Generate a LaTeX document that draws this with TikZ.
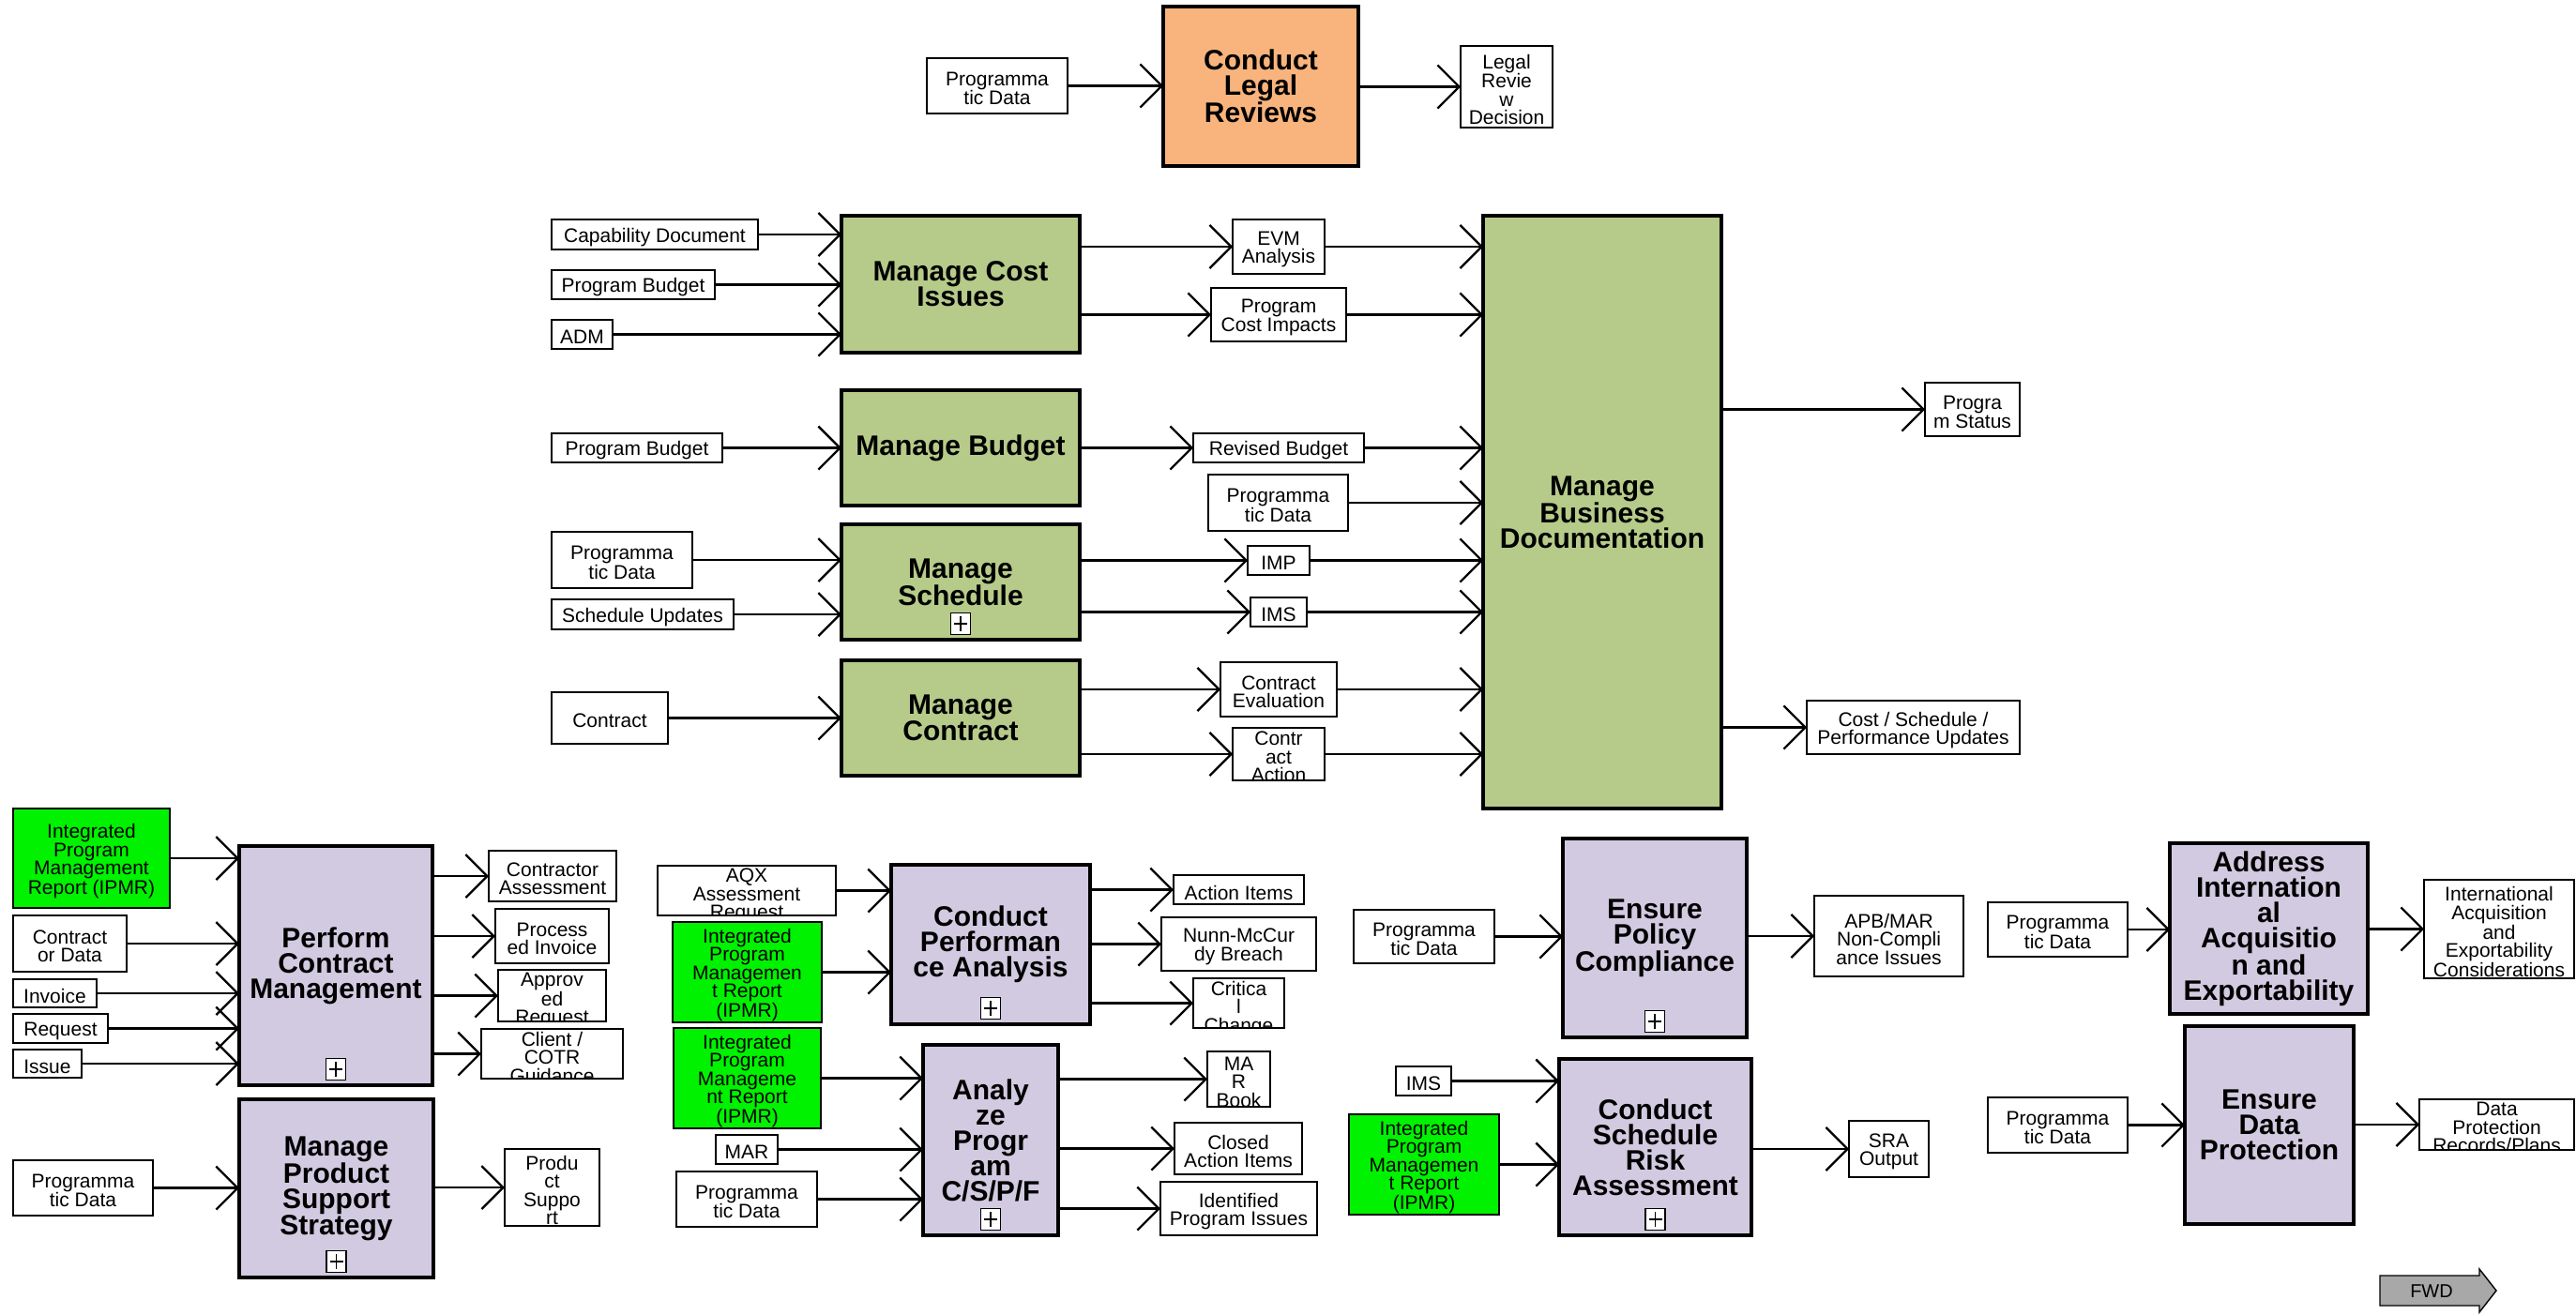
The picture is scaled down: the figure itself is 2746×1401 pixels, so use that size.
\documentclass[tikz,border=0pt]{standalone}
\usepackage{fontspec}
\setmainfont{Liberation Sans}
\usetikzlibrary{arrows.meta}
\definecolor{olivefill}{HTML}{B6CB89}
\definecolor{lavfill}{HTML}{D2CAE0}
\definecolor{orangefill}{HTML}{F8B47C}
\definecolor{ipmrgreen}{HTML}{00F200}
\definecolor{fwdgray}{HTML}{A8A8A8}
\tikzset{
 proc/.style={draw=black, line width=3.4pt, inner sep=0pt, outer sep=0pt, align=center, font=\bfseries\fontsize{30}{27}\selectfont},
 olive/.style={proc, fill=olivefill},
 lav/.style={proc, fill=lavfill},
 orng/.style={proc, fill=orangefill},
 sbox/.style={draw=black, line width=2.6pt, fill=white, inner sep=0pt, outer sep=0pt},
 gbox/.style={sbox, fill=ipmrgreen},
 btxt/.style={inner sep=0pt, align=center, anchor=north, font=\fontsize{21}{19.5}\selectfont},
 conn/.style={line width=2.3pt, -{Straight Barb[length=23pt, width=46pt, line width=2.3pt]}},
 plusbox/.style={draw=black, line width=1.6pt, fill=white, minimum width=21pt, minimum height=23pt, inner sep=0pt,
   path picture={\draw[line width=1.4pt] ([xshift=-7pt]path picture bounding box.center) -- ([xshift=7pt]path picture bounding box.center);
                 \draw[line width=1.4pt] ([yshift=-8pt]path picture bounding box.center) -- ([yshift=8pt]path picture bounding box.center);}},
}
\newcommand\pbox[7]{\node[#1, minimum width={#5-#3}, minimum height={#6-#4}, anchor=north west] (#2) at (#3,#4) {#7};}
\newcommand\ibox[7][sbox]{\node[#1, minimum width={#5-#3}, minimum height={#6-#4}, anchor=north west,
   path picture={\node[btxt] at ([yshift=-3pt]path picture bounding box.north) {#7};}] (#2) at (#3,#4) {};}
\newcommand\plusof[1]{\node[plusbox] (#1-plus) at ([yshift=17pt]#1.south) {};}
\newcommand\inarr[2]{\draw[conn] (#1.east) -- (#1.east -| #2.west);}
\newcommand\outarr[2]{\draw[conn] (#1.east |- #2.west) -- (#2.west);}
\begin{document}
\begin{tikzpicture}[x=1pt, y=-1pt]
\useasboundingbox (0,0) rectangle (2746,1401);
% ---------- process boxes ----------
\pbox{orng}{clr}{1240}{7}{1448}{177}{Conduct\\Legal\\Reviews}
\pbox{olive}{mci}{897}{230}{1151}{376}{Manage Cost\\Issues}
\pbox{olive}{mb}{897}{416}{1151}{539}{Manage Budget}
\pbox{olive}{ms}{897}{559}{1151}{682}{Manage\\Schedule}
\pbox{olive}{mc}{897}{704}{1151}{827}{Manage\\Contract}
\pbox{olive}{mbd}{1581}{230}{1835}{862}{Manage\\Business\\Documentation}
\pbox{lav}{pcm}{255}{902}{461}{1157}{Perform\\Contract\\Management}
\pbox{lav}{mpss}{255}{1172}{462}{1362}{Manage\\Product\\Support\\Strategy}
\pbox{lav}{cpa}{950}{922}{1162}{1092}{Conduct\\Performan\\ce Analysis}
\pbox{lav}{apc}{984}{1114}{1128}{1317}{Analy\\ze\\Progr\\am\\C/S/P/F}
\pbox{lav}{epc}{1666}{894}{1862}{1106}{Ensure\\Policy\\Compliance}
\pbox{lav}{csra}{1662}{1129}{1867}{1317}{Conduct\\Schedule\\Risk\\Assessment}
\pbox{lav}{aiae}{2313}{899}{2524}{1081}{Address\\Internation\\al\\Acquisitio\\n and\\Exportability}
\pbox{lav}{edp}{2329}{1094}{2509}{1305}{Ensure\\Data\\Protection}
\plusof{ms}\plusof{pcm}\plusof{mpss}\plusof{cpa}\plusof{apc}\plusof{epc}\plusof{csra}
% ---------- data boxes ----------
\ibox{pd0}{988}{62}{1138}{121}{Programma\\tic Data}
\ibox{lrd}{1557}{49}{1655}{136}{Legal\\Revie\\w\\Decision}
\ibox{capdoc}{588}{234}{808}{266}{Capability Document}
\ibox{pb1}{588}{288}{762}{319}{Program Budget}
\ibox{adm}{588}{341}{653}{372}{ADM}
\ibox{evm}{1314}{234}{1412}{292}{EVM\\Analysis}
\ibox{pci}{1291}{307}{1435}{364}{Program\\Cost Impacts}
\ibox{pb2}{588}{462}{770}{493}{Program Budget}
\ibox{rb}{1272}{462}{1454}{493}{Revised Budget}
\ibox{pd1}{1288}{506}{1437}{566}{Programma\\tic Data}
\ibox{pd2}{588}{567}{738}{627}{Programma\\tic Data}
\ibox{imp}{1330}{582}{1396}{613}{IMP}
\ibox{su}{588}{639}{782}{671}{Schedule Updates}
\ibox{imsa}{1333}{637}{1393}{668}{IMS}
\ibox{contract}{588}{738}{712}{793}{Contract}
\ibox{ce}{1301}{706}{1425}{764}{Contract\\Evaluation}
\ibox{ca}{1314}{776}{1412}{832}{Contr\\act\\Action}
\ibox{ps}{2052}{408}{2153}{465}{Progra\\m Status}
\ibox{csp}{1926}{747}{2153}{804}{Cost / Schedule /\\Performance Updates}
\ibox[gbox]{ipmra}{14}{862}{181}{968}{Integrated\\Program\\Management\\Report (IPMR)}
\ibox{cd}{14}{976}{135}{1036}{Contract\\or Data}
\ibox{inv}{14}{1044}{103}{1074}{Invoice}
\ibox{req}{14}{1081}{115}{1112}{Request}
\ibox{iss}{14}{1119}{87}{1149}{Issue}
\ibox{cas}{521}{907}{657}{961}{Contractor\\Assessment}
\ibox{pinv}{528}{969}{649}{1027}{Process\\ed Invoice}
\ibox{areq}{531}{1034}{646}{1089}{Approv\\ed\\Request}
\ibox{cotr}{513}{1097}{664}{1150}{Client /\\COTR\\Guidance}
\ibox{pd3}{14}{1237}{163}{1296}{Programma\\tic Data}
\ibox{prs}{538}{1225}{639}{1307}{Produ\\ct\\Suppo\\rt}
\ibox{aqx}{701}{923}{891}{976}{AQX\\Assessment\\Request}
\ibox[gbox]{ipmrb}{717}{983}{876}{1090}{Integrated\\Program\\Managemen\\t Report\\(IPMR)}
\ibox{ai}{1251}{933}{1390}{964}{Action Items}
\ibox{nmb}{1238}{978}{1403}{1035}{Nunn-McCur\\dy Breach}
\ibox{cc}{1272}{1043}{1369}{1096}{Critica\\l\\Change}
\ibox[gbox]{ipmrc}{718}{1096}{875}{1203}{Integrated\\Program\\Manageme\\nt Report\\(IPMR)}
\ibox{mar}{763}{1210}{829}{1241}{MAR}
\ibox{pd4}{721}{1249}{871}{1308}{Programma\\tic Data}
\ibox{marb}{1287}{1121}{1354}{1180}{MA\\R\\Book}
\ibox{cai}{1252}{1197}{1388}{1252}{Closed\\Action Items}
\ibox{ipi}{1237}{1260}{1404}{1317}{Identified\\Program Issues}
\ibox{pd5}{1443}{970}{1593}{1027}{Programma\\tic Data}
\ibox{apb}{1934}{955}{2093}{1041}{APB/MAR\\Non-Compli\\ance Issues}
\ibox{imsb}{1488}{1137}{1547}{1168}{IMS}
\ibox[gbox]{ipmrd}{1438}{1188}{1598}{1295}{Integrated\\Program\\Managemen\\t Report\\(IPMR)}
\ibox{sra}{1971}{1195}{2056}{1255}{SRA\\Output}
\ibox{pd6}{2119}{962}{2268}{1020}{Programma\\tic Data}
\ibox{iaec}{2584}{938}{2744}{1043}{International\\Acquisition\\and\\Exportability\\Considerations}
\ibox{pd7}{2119}{1170}{2268}{1229}{Programma\\tic Data}
\ibox{dpr}{2579}{1172}{2744}{1226}{Data\\Protection\\Records/Plans}
% ---------- connectors ----------
\inarr{pd0}{clr} \outarr{clr}{lrd}
\inarr{capdoc}{mci} \inarr{pb1}{mci} \inarr{adm}{mci}
\outarr{mci}{evm} \outarr{mci}{pci}
\inarr{pb2}{mb} \outarr{mb}{rb}
\inarr{pd2}{ms} \inarr{su}{ms} \outarr{ms}{imp} \outarr{ms}{imsa}
\inarr{contract}{mc} \outarr{mc}{ce} \outarr{mc}{ca}
\inarr{evm}{mbd} \inarr{pci}{mbd} \inarr{rb}{mbd} \inarr{pd1}{mbd}
\inarr{imp}{mbd} \inarr{imsa}{mbd} \inarr{ce}{mbd} \inarr{ca}{mbd}
\outarr{mbd}{ps} \outarr{mbd}{csp}
\inarr{ipmra}{pcm} \inarr{cd}{pcm} \inarr{inv}{pcm} \inarr{req}{pcm} \inarr{iss}{pcm}
\outarr{pcm}{cas} \outarr{pcm}{pinv} \outarr{pcm}{areq} \outarr{pcm}{cotr}
\inarr{pd3}{mpss} \outarr{mpss}{prs}
\inarr{aqx}{cpa} \inarr{ipmrb}{cpa}
\outarr{cpa}{ai} \outarr{cpa}{nmb} \outarr{cpa}{cc}
\inarr{ipmrc}{apc} \inarr{mar}{apc} \inarr{pd4}{apc}
\outarr{apc}{marb} \outarr{apc}{cai} \outarr{apc}{ipi}
\inarr{pd5}{epc} \outarr{epc}{apb}
\inarr{imsb}{csra} \inarr{ipmrd}{csra} \outarr{csra}{sra}
\inarr{pd6}{aiae} \outarr{aiae}{iaec}
\inarr{pd7}{edp} \outarr{edp}{dpr}
% ---------- FWD ----------
\draw[fill=fwdgray, line width=1.4pt, line join=miter] (2537,1360) -- (2643,1360) -- (2643,1353) -- (2661,1376) -- (2643,1399) -- (2643,1392) -- (2537,1392) -- cycle;
\node[inner sep=0pt, font=\fontsize{20}{20}\selectfont] (fwd) at (2592,1377) {FWD};
\end{tikzpicture}
\end{document}
